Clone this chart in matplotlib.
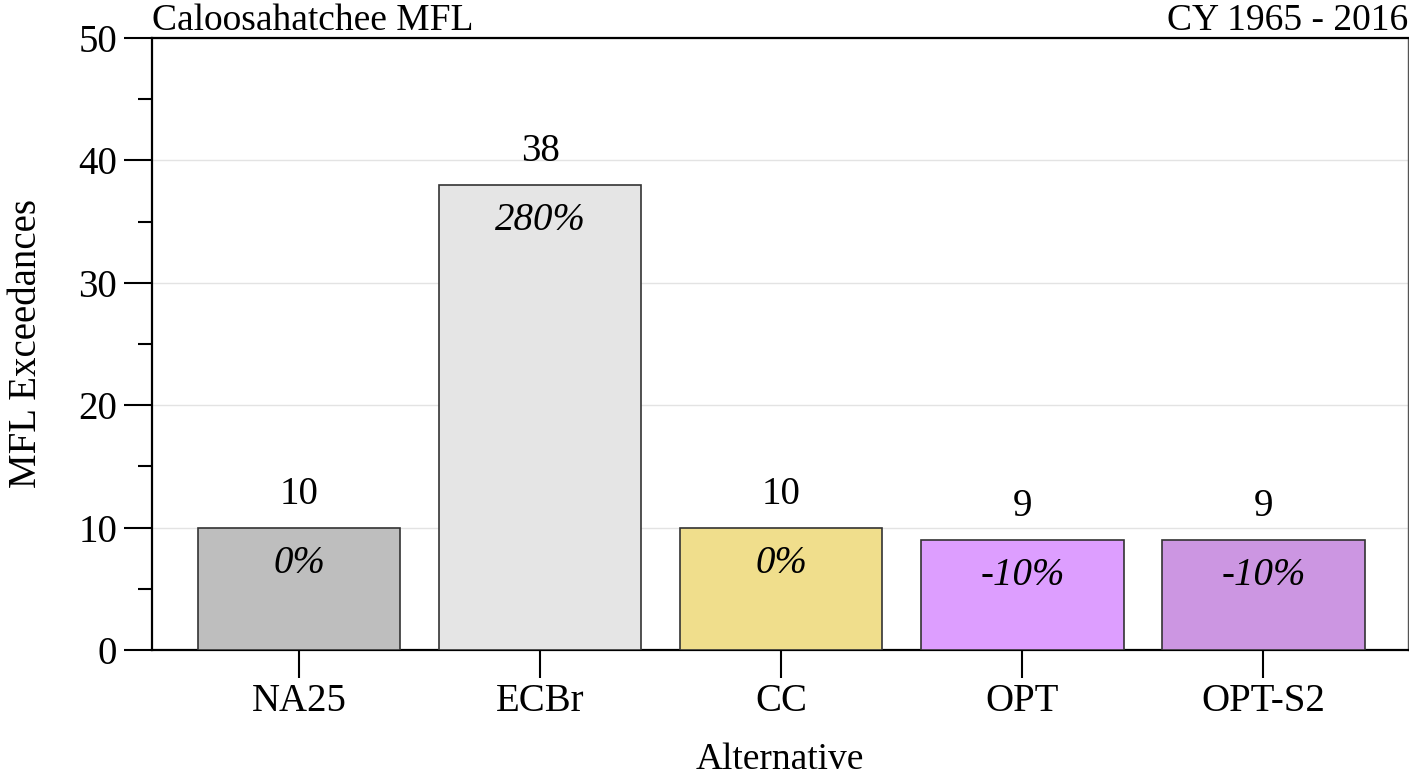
import matplotlib
matplotlib.use("Agg")
from matplotlib import pyplot as plt
from matplotlib.ticker import MultipleLocator

alternatives = ["NA25", "ECBr", "CC", "OPT", "OPT-S2"]
exceedances = [10, 38, 10, 9, 9]
pct_change = ["0%", "280%", "0%", "-10%", "-10%"]
bar_colors = ["#BEBEBE", "#E5E5E5", "#F0DE8C", "#DD9EFF", "#CC96E2"]

plt.rcParams['font.family'] = ['Liberation Serif', 'DejaVu Serif']

fig = plt.figure(figsize=(14.09, 7.78), dpi=100)
ax = fig.add_axes([152 / 1409, 1 - 650 / 778, 1256 / 1409, 612 / 778])

x = list(range(len(alternatives)))
ax.bar(x, exceedances, width=0.84, color=bar_colors, edgecolor="#333333",
       linewidth=1.2, zorder=3)

for xi, v, p in zip(x, exceedances, pct_change):
    ax.text(xi, v + 2.7, str(v), ha="center", va="center", fontsize=28)
    ax.text(xi, v - 2.9, p, ha="center", va="center", fontsize=28,
            style="italic")

ax.set_xlim(-0.61, 4.6)
ax.set_ylim(0, 50)
ax.set_xticks(x)
ax.set_xticklabels(alternatives, fontsize=28)
ax.yaxis.set_major_locator(MultipleLocator(10))
ax.yaxis.set_minor_locator(MultipleLocator(5))
ax.tick_params(axis="y", which="major", length=20, width=1.5, labelsize=28, pad=5)
ax.tick_params(axis="y", which="minor", length=10, width=1.5)
ax.tick_params(axis="x", which="major", length=20, width=1.5, pad=4)
ax.grid(axis="y", color="#E3E3E3", linewidth=1, zorder=0)

for side in ["left", "bottom", "top"]:
    ax.spines[side].set_linewidth(1.6)
    ax.spines[side].set_color("black")
ax.spines["right"].set_linewidth(1)
ax.spines["right"].set_color("#555555")

ax.set_ylabel("MFL Exceedances", fontsize=28, labelpad=24)
ax.set_xlabel("Alternative", fontsize=27, labelpad=16)
ax.set_title("Caloosahatchee MFL", loc="left", fontsize=27, pad=2)
ax.set_title("CY 1965 - 2016", loc="right", fontsize=27, pad=2)

fig.savefig("out.png", dpi=100)
